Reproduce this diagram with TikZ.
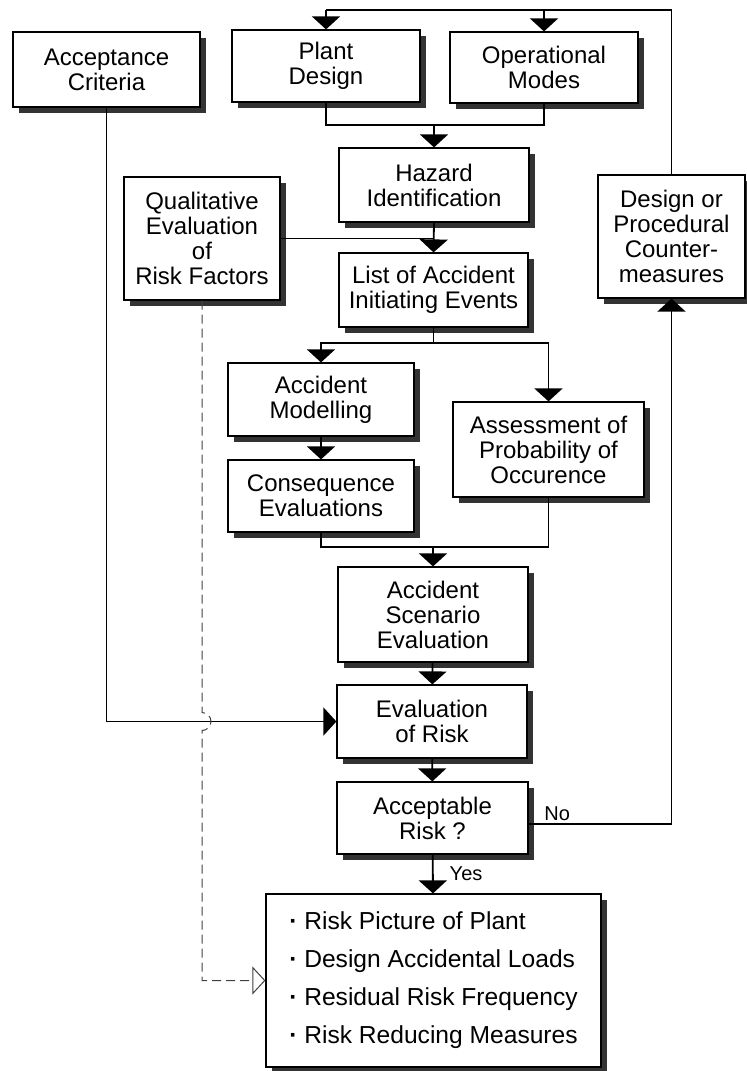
\documentclass[tikz,border=0pt]{standalone}
\usepackage{fontspec}
\setmainfont{Liberation Sans}
\usetikzlibrary{arrows.meta,shadows}
\newcommand{\flowBox}[6]{%%
  %% A box with its shadow: name, centre x, centre y, width, height, text.
  \node[boxStyle,minimum width=#4*0.5pt,minimum height=#5*0.5pt] (#1) at (#2,#3) {#6};
}
\newcommand{\dotItem}{\makebox[7.5pt][l]{\textbf{\textperiodcentered}}}

\begin{document}
\begin{tikzpicture}[%%
  x=0.5pt,y=-0.5pt,
  boxStyle/.style={draw,fill=white,line width=0.6pt,align=center,inner sep=2pt,
    font=\fontsize{12}{12.5}\selectfont,
    drop shadow={shadow xshift=3pt,shadow yshift=-3pt,opacity=1,fill=black!80}},%%
  lineStyle/.style={-,line width=0.9pt},%%
  flowStyle/.style={lineStyle,-{Triangle[width=14pt,length=6.5pt]}},%%
  dashStyle/.style={dash pattern=on 4.5pt off 2.5pt,line width=0.5pt,black!75,
    -{Triangle[open,width=14pt,length=6.5pt,fill=white]}},%%
  labelStyle/.style={font=\fontsize{10}{12}\selectfont,inner sep=1pt}
]
%%
%%
\useasboundingbox (0,0) rectangle (747,1071);
\coordinate (topLeft) at (326,10);
\coordinate (topRight) at (544,10);
\coordinate (mergeTop) at (434,125);
\coordinate (branch) at (433.5,343);
\coordinate (mergeLow) at (433,547);
%%
%%
%% The steps of the study.
\flowBox{criteria}{106.5}{69.5}{187}{75}{Acceptance\\Criteria}
\flowBox{plant}{326}{66}{188}{72}{Plant\\Design}
\flowBox{modes}{544}{67.5}{188}{71}{Operational\\Modes}
\flowBox{hazard}{434}{185}{190}{74}{Hazard\\Identification}
\flowBox{qualitative}{202}{238.5}{156}{123}{Qualitative\\Evaluation\\of\\Risk Factors}
\flowBox{initiating}{433.5}{290}{189}{74}{List of Accident\\Initiating Events}
\flowBox{counter}{671.5}{236.5}{147}{123}{Design or\\Procedural\\Counter-\\measures}
\flowBox{modelling}{321}{399.5}{186}{73}{Accident\\Modelling}
\flowBox{consequence}{321}{496}{186}{72}{Consequence\\Evaluations}
\flowBox{probability}{548.5}{449.5}{191}{95}{Assessment of\\Probability of\\Occurence}
\flowBox{scenario}{433}{614.5}{190}{95}{Accident\\Scenario\\Evaluation}
\flowBox{riskEval}{432}{721.5}{190}{73}{Evaluation\\of Risk}
\flowBox{acceptable}{432.5}{818}{191}{72}{Acceptable\\Risk ?}
%% The results.
\node[boxStyle,align=left,font=\fontsize{12.3}{19}\selectfont,
  minimum width=335*0.5pt,minimum height=173*0.5pt] (outcome) at (433.5,980.5)
  {\dotItem Risk Picture of Plant\\
   \dotItem Design Accidental Loads\\
   \dotItem Residual Risk Frequency\\
   \dotItem Risk Reducing Measures};
%%
%%
%% Feedback to the design.
\draw[lineStyle] (counter.north) |- (topLeft);
\draw[flowStyle] (topLeft) -- (plant.north);
\draw[flowStyle] (topRight) -- (modes.north);
%% Plant and modes into the hazard identification.
\draw[lineStyle] (plant.south) |- (mergeTop) -| (modes.south);
\draw[flowStyle] (mergeTop) -- (hazard.north);
\draw[flowStyle] (hazard.south) -- (initiating.north);
\draw[lineStyle] (qualitative.east) -- (qualitative.east -| hazard.south);
%% Consequences and probability.
\draw[lineStyle] (initiating.south) -- (branch);
\draw[flowStyle] (branch) -| (modelling.north);
\draw[flowStyle] (branch) -| (probability.north);
\draw[flowStyle] (modelling) -- (consequence);
\draw[lineStyle] (consequence.south) |- (mergeLow) -| (probability.south);
\draw[flowStyle] (mergeLow) -- (scenario.north);
\draw[flowStyle] (scenario) -- (riskEval);
\draw[flowStyle] (riskEval) -- (acceptable);
\draw[flowStyle] (acceptable) -- node[labelStyle,right=7pt] {Yes} (outcome);
\draw[flowStyle] ([yshift=-3pt]acceptable.east) -| node[labelStyle,above,pos=0.1] {No} (counter.south);
%% The acceptance criteria.
\draw[flowStyle] (criteria.south) |- (riskEval.west);
%% The qualitative path, hopping over the criteria line.
\coordinate (hopCentre) at (qualitative.south |- riskEval.west);
\coordinate (dashCorner) at (qualitative.south |- outcome.west);
\draw[dashStyle] (qualitative.south) -- ([yshift=4.5pt]hopCentre)
  arc[start angle=90,end angle=-90,radius=4.5pt] -- (dashCorner) -- (outcome.west);
\end{tikzpicture}
\end{document}
